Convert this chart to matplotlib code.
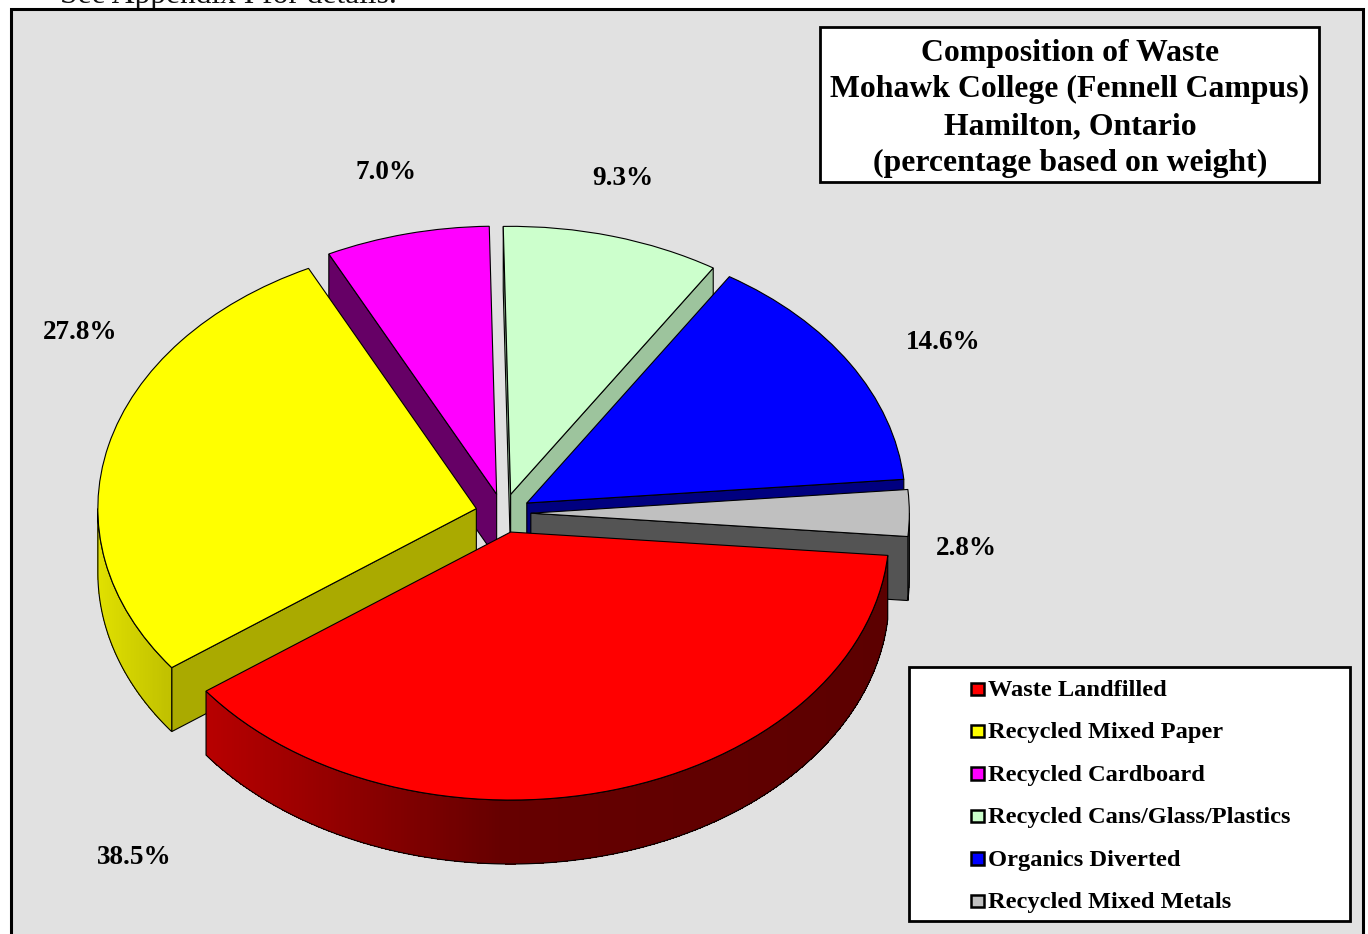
import numpy as np
import matplotlib
matplotlib.use("Agg")
import matplotlib.pyplot as plt
from matplotlib.patches import Rectangle, Wedge, Polygon
from matplotlib.transforms import Affine2D

categories = ["Waste Landfilled", "Recycled Mixed Paper", "Recycled Cardboard",
              "Recycled Cans/Glass/Plastics", "Organics Diverted", "Recycled Mixed Metals"]
values = [38.5, 27.8, 7.0, 9.3, 14.6, 2.8]
value_labels = ["38.5%", "27.8%", "7.0%", "9.3%", "14.6%", "2.8%"]
colors = ["#FF0000", "#FFFF00", "#FF00FF", "#CCFFCC", "#0000FF", "#C0C0C0"]
face_shade = [0.5, 0.667, 0.4, 0.77, 0.5, 0.44]
title_lines = ["Composition of Waste", "Mohawk College (Fennell Campus)",
               "Hamilton, Ontario", "(percentage based on weight)"]

SERIF = "Liberation Serif"
W, H = 1368, 934
fig = plt.figure(figsize=(W / 100, H / 100), dpi=100, facecolor="white")
ax = fig.add_axes([0, 0, 1, 1])
ax.set_xlim(0, W)
ax.set_ylim(H, 0)
ax.axis("off")

ax.text(60, 3, "See Appendix I for details.", family=SERIF, fontsize=22.7,
        ha="left", va="baseline", color="#111111", zorder=0)
ax.add_patch(Rectangle((11, 9), 1352, H, fc="#E1E1E1", ec="black", lw=2.2, zorder=1))

# pie geometry
cx, cy, rx, ry, depth, explode, start = 503.2, 513.2, 378.5, 268, 64, 0.073, 5.0
z = 2


def shade(col, k):
    return tuple(c * k for c in matplotlib.colors.to_rgb(col))


def rim_level(x):
    return np.interp(x, [98, 172, 205, 350, 500, 890], [0.88, 0.75, 0.72, 0.56, 0.40, 0.36])


fractions = np.array(values) / sum(values)
a0 = start + 360 * np.concatenate([[0], np.cumsum(fractions)[:-1]])
a1 = a0 + 360 * fractions


def pt(ax_, ay_, deg):
    r = np.radians(deg)
    return np.array([ax_ + rx * np.cos(r), ay_ + ry * np.sin(r)])


for i in [2, 3, 4, 5, 1, 0]:
    mid = np.radians((a0[i] + a1[i]) / 2)
    ox = cx + explode * rx * np.cos(mid)
    oy = cy + explode * ry * np.sin(mid)
    col = colors[i]
    apex = np.array([ox, oy])
    down = np.array([0, depth])
    # cut faces
    for ang, vis in ((a0[i], -np.cos(np.radians(a0[i])) > 0), (a1[i], np.cos(np.radians(a1[i])) > 0)):
        if vis:
            p = pt(ox, oy, ang)
            ax.add_patch(Polygon([apex, p, p + down, apex + down], closed=True,
                                 fc=shade(col, face_shade[i]), ec="black", lw=0.8, zorder=z))
            z += 1
    # outer rim, only where it faces the viewer
    for lo, hi in ((a0[i], min(a1[i], 180)), (max(a0[i], 360), min(a1[i], 540))):
        if hi <= lo:
            continue
        th = np.linspace(lo, hi, max(int((hi - lo) * 2), 2))
        top = np.array([pt(ox, oy, t) for t in th])
        for k in range(len(th) - 1):
            q = [top[k], top[k + 1], top[k + 1] + down, top[k] + down]
            level = face_shade[i] if i not in (0, 1) else rim_level((top[k][0] + top[k + 1][0]) / 2)
            ax.add_patch(Polygon(q, closed=True, fc=shade(col, level), ec="none", lw=0,
                                 antialiased=False, zorder=z))
        z += 1
        outline = np.vstack([top, (top + down)[::-1]])
        ax.add_patch(Polygon(outline, closed=True, fc="none", ec="black", lw=0.8, zorder=z))
        z += 1
    # top face
    tr = Affine2D().scale(rx, ry).translate(ox, oy) + ax.transData
    ax.add_patch(Wedge((0, 0), 1, a0[i], a1[i], fc=col, ec="black", lw=0.8, transform=tr, zorder=z))
    z += 1

# value labels
label_pos = [(134.5, 857), (80, 332.5), (386, 172.5), (623, 178.5), (943, 342.5), (966, 548.5)]
for txt, (lx, ly) in zip(value_labels, label_pos):
    ax.text(lx, ly, txt, family=SERIF, weight="bold", fontsize=19.5, ha="center",
            va="center", color="black", zorder=z)

# title box
ax.add_patch(Rectangle((820, 27), 499, 155, fc="white", ec="black", lw=2, zorder=z))
for k, line in enumerate(title_lines):
    ax.text(1070, 53 + 36.9 * k, line, family=SERIF, weight="bold", fontsize=22.9,
            ha="center", va="center", color="black", zorder=z + 1)

# legend
ax.add_patch(Rectangle((909, 666.5), 441, 254, fc="white", ec="black", lw=2, zorder=z))
for k, (name, col) in enumerate(zip(categories, colors)):
    y = 690 + 42.4 * k
    ax.add_patch(Rectangle((970.5, y - 7.5), 13, 12.5, fc=col, ec="black", lw=1.8, zorder=z + 1))
    ax.text(988, y + 0.5, name, family=SERIF, weight="bold", fontsize=17.6, ha="left",
            va="center", color="black", zorder=z + 1)

fig.savefig("out.png", dpi=100)
